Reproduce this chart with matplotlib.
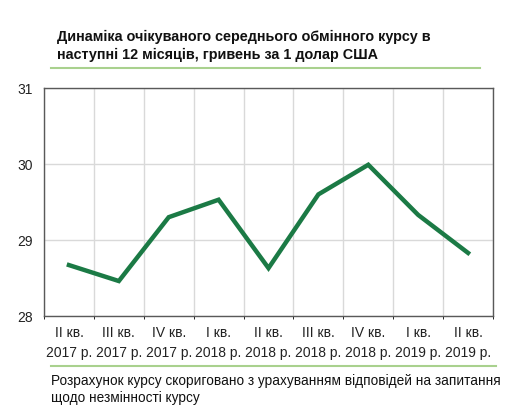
import matplotlib.pyplot as plt
import numpy as np

plt.rcParams['font.family'] = ['Liberation Sans', 'DejaVu Sans']

# Квартали та очікуваний курс
quarters = ['II кв.\n2017 р.', 'III кв.\n2017 р.', 'IV кв.\n2017 р.', 'I кв.\n2018 р.',
            'II кв.\n2018 р.', 'III кв.\n2018 р.', 'IV кв.\n2018 р.', 'I кв.\n2019 р.',
            'II кв.\n2019 р.']
rate = [28.67, 28.46, 29.30, 29.53, 28.63, 29.60, 29.99, 29.33, 28.83]

title = 'Динаміка очікуваного середнього обмінного курсу в\nнаступні 12 місяців, гривень за 1 долар США'
note = 'Розрахунок курсу скориговано з урахуванням відповідей на запитання\nщодо незмінності курсу'

W, H = 511, 415
fig = plt.figure(figsize=(W / 100, H / 100), dpi=100)
ax = fig.add_axes([44 / W, (H - 316) / H, (493 - 44) / W, 228 / H])

x = np.arange(len(quarters))
ax.plot(x, rate, color='#1b7a45', lw=3.2, solid_joinstyle='miter', zorder=3)

ax.set_xlim(-0.5, len(quarters) - 0.5)
ax.set_ylim(28, 31)
ax.set_yticks([28, 29, 30, 31])
ax.set_xticks(x)
ax.set_xticklabels(quarters, fontsize=10, linespacing=1.55)
ax.set_xticks(np.arange(-0.5, len(quarters)), minor=True)
ax.tick_params(axis='both', length=0, labelsize=10, colors='#222222')
ax.tick_params(axis='y', pad=8)
ax.tick_params(axis='x', pad=7)
ax.grid(True, which='minor', axis='x', color='#d9d9d9', lw=1)
ax.grid(True, which='major', axis='y', color='#d9d9d9', lw=1)
for s in ax.spines.values():
    s.set_color('#595959')
    s.set_linewidth(1)

fig.text(57 / W, 1 - 30 / H, title, fontsize=10.4, fontweight='bold', va='top',
         ha='left', linespacing=1.35, color='#111111')
fig.add_artist(plt.Line2D([51 / W, 480 / W], [1 - 68 / H, 1 - 68 / H],
                          color='#a9d18e', lw=1.5))
fig.add_artist(plt.Line2D([51 / W, 496 / W], [1 - 366 / H, 1 - 366 / H],
                          color='#a9d18e', lw=1.5))
fig.text(51 / W, 1 - 374 / H, note, fontsize=9.8, va='top', ha='left',
         linespacing=1.3, color='#111111')

fig.savefig('out.png', dpi=100)
